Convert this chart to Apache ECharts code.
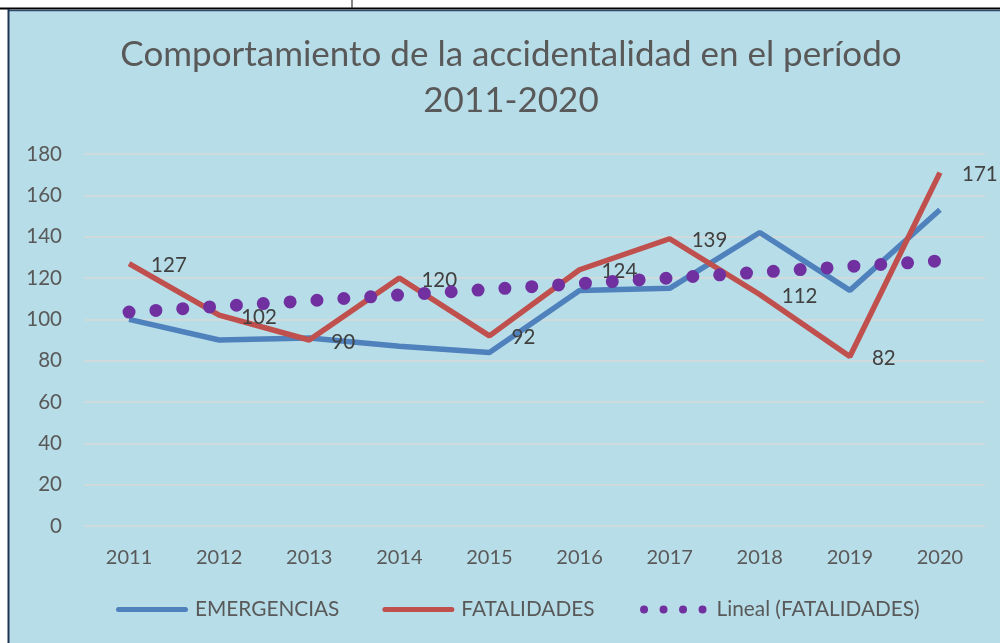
<!DOCTYPE html>
<html>
<head>
<meta charset="utf-8">
<script src="https://cdn.jsdelivr.net/npm/echarts@6/dist/echarts.min.js"></script>
<style>
html,body{margin:0;padding:0;background:#fff;}
#c{width:1000px;height:643px;}
</style>
</head>
<body>
<div id="c"></div>
<script>
const years = ['2011','2012','2013','2014','2015','2016','2017','2018','2019','2020'];
const emergencias = [100, 90, 91, 87, 84, 114, 115, 142, 114, 153];
const fatalidades = [127, 102, 90, 120, 92, 124, 139, 112, 82, 171];
const linealFatalidades = [103.5, 106.3, 109.0, 111.8, 114.5, 117.3, 120.0, 122.8, 125.6, 128.3];
const yTicks = [0, 20, 40, 60, 80, 100, 120, 140, 160, 180];
const titleText = 'Comportamiento de la accidentalidad en el período\n2011-2020';
const seriesNames = ['EMERGENCIAS', 'FATALIDADES', 'Lineal (FATALIDADES)'];

const FONT = 'Lato, "Open Sans", sans-serif';
// legend icons: bbox 0..72 x 0..9 (degenerate corner points fix the bbox)
const BOX = 'M0,0L0.01,0ZM72,9L71.99,9Z';
const lineIcon = 'path://' + BOX + 'M2.5,2h67a2.5,2.5 0 0 1 0,5h-67a2.5,2.5 0 0 1 0,-5Z';
const dotsIcon = 'path://' + BOX +
  'M2.5,4.5a4,4 0 1,0 8,0a4,4 0 1,0 -8,0Z' +
  'M22,4.5a4,4 0 1,0 8,0a4,4 0 1,0 -8,0Z' +
  'M41.5,4.5a4,4 0 1,0 8,0a4,4 0 1,0 -8,0Z' +
  'M61,4.5a4,4 0 1,0 8,0a4,4 0 1,0 -8,0Z';

const chart = echarts.init(document.getElementById('c'), null, {renderer: 'canvas'});
chart.setOption({
  backgroundColor: '#ffffff',
  animation: false,
  graphic: {
    elements: [
      {type: 'rect', z: -100, shape: {x: 9, y: 10, width: 991, height: 633}, style: {fill: '#B7DDE8'}},
      {type: 'line', z: -90, shape: {x1: 0, y1: 8.5, x2: 1000, y2: 8.5}, style: {stroke: '#000', lineWidth: 2}},
      {type: 'line', z: -90, shape: {x1: 8, y1: 10.5, x2: 1000, y2: 10.5}, style: {stroke: '#2E4A6B', lineWidth: 1.5}},
      {type: 'line', z: -90, shape: {x1: 8.5, y1: 9, x2: 8.5, y2: 643}, style: {stroke: '#1F3550', lineWidth: 2}},
      {type: 'line', z: -90, shape: {x1: 352, y1: 0, x2: 352, y2: 8}, style: {stroke: '#333', lineWidth: 1.2}}
    ]
  },
  title: {
    text: titleText,
    left: 506,
    top: 27,
    textAlign: 'center',
    textStyle: {fontFamily: FONT, fontSize: 35, fontWeight: 'normal', color: '#595959', lineHeight: 46}
  },
  legend: {
    bottom: 18,
    left: 111,
    itemWidth: 72,
    itemHeight: 9,
    itemGap: 43,
    textStyle: {fontFamily: FONT, fontSize: 20.8, color: '#595959', padding: [0, 0, 0, 2]},
    data: [
      {name: seriesNames[0], icon: lineIcon},
      {name: seriesNames[1], icon: lineIcon},
      {name: seriesNames[2], icon: dotsIcon, itemStyle: {color: '#7030A0'}}
    ]
  },
  grid: {left: 84, right: 15, top: 154, bottom: 117},
  xAxis: {
    type: 'category',
    data: years,
    boundaryGap: true,
    axisLine: {show: false},
    axisTick: {show: false},
    axisLabel: {fontFamily: FONT, fontSize: 20, color: '#595959', margin: 22}
  },
  yAxis: {
    type: 'value',
    min: yTicks[0],
    max: yTicks[yTicks.length - 1],
    interval: 20,
    axisLine: {show: false},
    axisTick: {show: false},
    splitLine: {lineStyle: {color: '#D9D9D9', width: 1.5}},
    axisLabel: {fontFamily: FONT, fontSize: 20.5, color: '#595959', margin: 22}
  },
  series: [
    {
      name: seriesNames[0], type: 'line', data: emergencias, symbol: 'none',
      lineStyle: {color: '#4F81BD', width: 5.5}, itemStyle: {color: '#4F81BD'}, z: 2
    },
    {
      name: seriesNames[1], type: 'line', data: fatalidades, symbol: 'circle', symbolSize: 0.1, showSymbol: true,
      lineStyle: {color: '#C0504D', width: 5.5}, itemStyle: {color: '#C0504D'}, z: 3,
      label: {show: true, position: 'right', distance: 22, offset: [0, 2], fontFamily: FONT, fontSize: 20.5, color: '#404040'}
    },
    {
      name: seriesNames[2], type: 'line', data: linealFatalidades, symbol: 'none',
      lineStyle: {color: '#7030A0', width: 13, type: [0, 26.9], cap: 'round'}, itemStyle: {color: '#7030A0'}, z: 4
    }
  ]
});
</script>
</body>
</html>
